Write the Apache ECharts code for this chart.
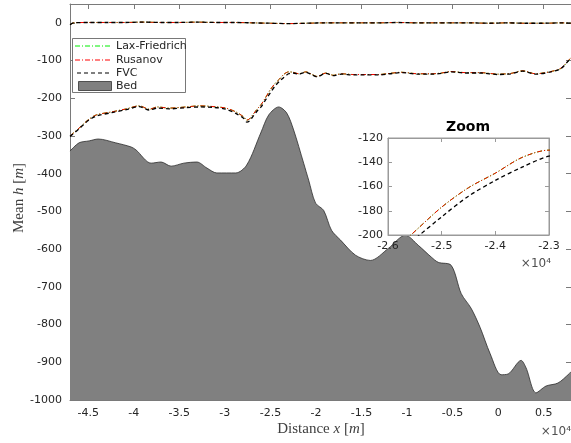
<!DOCTYPE html>
<html>
<head>
<meta charset="utf-8">
<script src="https://cdn.jsdelivr.net/npm/echarts@6/dist/echarts.min.js"></script>
<style>
  html, body { margin: 0; padding: 0; background: #fff; }
  #chart { width: 571px; height: 443px; }
</style>
</head>
<body>
<div id="chart"></div>
<script>
// Bed elevation along the profile (distance x in m, elevation in m)
const bedX = [
  -47000, -46000, -44900, -43900, -42000, -40300, -39750, -38100, -37000, -35900,
  -34500, -33070, -31970, -30880, -28800, -27600, -26060, -25180, -24090, -23210,
  -22450, -21350, -20800, -20040, -19160, -18290, -17300, -15660, -14020, -12050,
  -10180, -8760, -7340, -6570, -5150, -4050, -2960, -1970, -880, 330,
  1100, 2520, 3070, 4160, 5260, 6570, 7770, 8000
];
const bedY = [
  -340, -318, -313, -308, -318, -329, -337, -372, -369, -380,
  -372, -369, -385, -398, -398, -377, -292, -244, -223, -239,
  -284, -372, -417, -478, -497, -550, -576, -616, -630, -598,
  -563, -590, -621, -635, -643, -718, -757, -808, -877, -933,
  -931, -895, -915, -981, -963, -955, -931, -925
];

// Mean h of the lower layer for each scheme
const lowX = [
  -47000, -46000, -45000, -44100, -42400, -40800, -39400, -38300, -37400, -36100,
  -34300, -32800, -31300, -29900, -28800, -27900, -27600, -27300, -27000, -26500,
  -26000, -25600, -25000, -24500, -24000, -23500, -23000, -22500, -21900, -21100,
  -20500, -19900, -18900, -18100, -17200, -15900, -14600, -13100, -11900, -10600,
  -8800, -7300, -6200, -5200, -3600, -1900, 0, 1400, 2700, 4100,
  5800, 6900, 7700, 8000
];
const lowLaxFriedrich = [
  -300, -279, -257, -244, -236, -228, -220, -229, -223, -226,
  -223, -220, -222, -226, -236, -250, -258, -255, -246, -230,
  -216, -201, -177, -161, -149, -136, -130, -131, -135, -130,
  -136, -142, -133, -139, -135, -137, -137, -137, -134, -131,
  -135, -135, -133, -129, -132, -132, -136, -134, -127, -135,
  -129, -121, -101, -92
];
const lowRusanov = [
  -300, -279, -257, -244, -236, -228, -220, -229, -223, -226,
  -223, -220, -222, -226, -236, -250, -258, -255, -246, -230,
  -216, -201, -177, -161, -149, -136, -130, -131, -135, -130,
  -136, -142, -133, -139, -135, -137, -137, -137, -134, -131,
  -135, -135, -133, -129, -132, -132, -136, -134, -127, -135,
  -129, -120, -100, -92
];
const lowFVC = [
  -301, -281, -259, -247, -238, -230, -222, -231, -226, -228,
  -225, -223, -224, -229, -240, -254, -263, -260, -251, -235,
  -222, -207, -185, -168, -155, -144, -135, -133, -136, -131,
  -137, -143, -134, -140, -136, -138, -138, -138, -135, -132,
  -136, -136, -134, -130, -133, -133, -137, -135, -128, -136,
  -130, -121, -101, -92
];

// Mean h of the upper layer (free surface) for each scheme
const topX = [
  -47000, -46600, -45000, -43000, -41000, -39000, -37000, -35000, -33000, -31000,
  -29000, -27000, -25000, -23000, -21000, -19000, -17000, -15000, -13000, -11000,
  -9000, -7000, -5000, -3000, -1000, 1000, 3000, 5000, 7000, 8000
];
const topLaxFriedrich = [
  -5, 0, 1, 1, 1, 2, 1, 1, 2, 1,
  1, 0, -1, -2, -1, 0, 0, 0, 0, 1,
  0, 0, 0, 0, -1, 0, -1, -1, 0, -1
];
const topRusanov = [
  -5, 0, 1, 1, 1, 2, 1, 1, 2, 1,
  1, 0, -1, -2, -1, 0, 0, 0, 0, 1,
  0, 0, 0, 0, -1, 0, -1, -1, 0, -1
];
const topFVC = [
  -5, 0, 1, 1, 1, 2, 1, 1, 2, 1,
  1, 0, -1, -2, -1, 0, 0, 0, 0, 1,
  0, 0, 0, 0, -1, 0, -1, -1, 0, -1
];

// Axis ticks
const mainXTicks = [-45000, -40000, -35000, -30000, -25000, -20000, -15000, -10000, -5000, 0, 5000];

const zip = (xs, ys) => xs.map((x, i) => [x, ys[i]]);

const SANS = 'DejaVu Sans';
const SERIF = 'Liberation Serif';
const AXIS_GRAY = '#7a7a7a';
const INSET_GRAY = '#9a9a9a';
const LABEL = '#262626';
const DASHDOT = [5, 2, 1, 2];
const DASH = [4, 3];

const chart = echarts.init(document.getElementById('chart'), null, { renderer: 'canvas' });

function valueAxis(extra) {
  return Object.assign({
    type: 'value',
    splitLine: { show: false },
    axisLine: { show: true, onZero: false, lineStyle: { color: AXIS_GRAY, width: 1 } },
    axisTick: { show: true, inside: true, length: 5, lineStyle: { color: AXIS_GRAY } },
    axisLabel: { show: false }
  }, extra);
}

const xLabelFmt = v => String(+(v / 10000).toFixed(2));
const yLabelFmt = v => String(v);

function lineSeries(name, data, color, dash, width, xi, yi, z) {
  return {
    name, type: 'line', data, xAxisIndex: xi, yAxisIndex: yi,
    symbol: 'none', smooth: 0.3, clip: true, z,
    lineStyle: { color, type: dash, width },
    emphasis: { disabled: true }
  };
}

const series = [
  {
    name: 'Bed', type: 'line', data: zip(bedX, bedY), xAxisIndex: 0, yAxisIndex: 0,
    symbol: 'none', smooth: 0.3, z: 2,
    lineStyle: { color: '#2b2b2b', width: 0.8 },
    areaStyle: { color: '#808080', opacity: 1, origin: 'start' }
  }
];

// main view: both layers; inset: lower layer only
[
  ['Lax-Friedrich', topLaxFriedrich, lowLaxFriedrich, '#00ee00', DASHDOT, 1],
  ['Rusanov', topRusanov, lowRusanov, '#ff0000', DASHDOT, 1],
  ['FVC', topFVC, lowFVC, '#000000', DASH, 1.3]
].forEach(([name, top, low, color, dash, w], k) => {
  series.push(lineSeries(name, zip(topX, top), color, dash, w, 0, 0, 3 + k));
  series.push(lineSeries(name, zip(lowX, low), color, dash, w, 0, 0, 3 + k));
  series.push(lineSeries(name, zip(lowX, low), color, dash, w, 2, 2, 10 + k));
});

const insetAxis = extra => valueAxis(Object.assign({
  gridIndex: 1, z: 9,
  axisLine: { show: true, onZero: false, lineStyle: { color: INSET_GRAY, width: 1 } },
  axisTick: { show: true, inside: true, length: 4, lineStyle: { color: INSET_GRAY } }
}, extra));

const option = {
  animation: false,
  backgroundColor: '#fff',
  grid: [
    { left: 70, top: 4, right: -2, bottom: 43, show: false },
    { left: 388, top: 138, width: 161, height: 97, show: true,
      backgroundColor: '#fff', borderColor: INSET_GRAY, borderWidth: 1, z: 8 }
  ],
  xAxis: [
    valueAxis({
      gridIndex: 0, position: 'bottom', min: -47000, max: 8000,
      axisTick: { show: true, inside: true, length: 5, lineStyle: { color: AXIS_GRAY }, customValues: mainXTicks },
      axisLabel: { show: true, customValues: mainXTicks, formatter: xLabelFmt,
        fontFamily: SANS, fontSize: 11, color: LABEL, margin: 8 }
    }),
    valueAxis({
      gridIndex: 0, position: 'top', min: -47000, max: 8000,
      axisTick: { show: true, inside: true, length: 5, lineStyle: { color: AXIS_GRAY }, customValues: mainXTicks }
    }),
    insetAxis({
      position: 'bottom', min: -26000, max: -23000, interval: 1000,
      axisLabel: { show: true, formatter: xLabelFmt, fontFamily: SANS, fontSize: 11, color: LABEL, margin: 6 }
    }),
    insetAxis({ position: 'top', min: -26000, max: -23000, interval: 1000 })
  ],
  yAxis: [
    valueAxis({
      gridIndex: 0, position: 'left', min: -1000, max: 50, interval: 100,
      axisLabel: { show: true, showMaxLabel: false, formatter: yLabelFmt,
        fontFamily: SANS, fontSize: 11, color: LABEL, margin: 8 }
    }),
    valueAxis({ gridIndex: 0, position: 'right', min: -1000, max: 50, interval: 100 }),
    insetAxis({
      position: 'left', min: -200, max: -120, interval: 20,
      axisLabel: { show: true, formatter: yLabelFmt, fontFamily: SANS, fontSize: 11, color: LABEL, margin: 5 }
    }),
    insetAxis({ position: 'right', min: -200, max: -120, interval: 20 })
  ],
  series,
  graphic: [
    // axis titles
    { type: 'text', x: 321, y: 429, z: 20,
      style: {
        text: '{r|Distance }{i|x}{r| [}{i|m}{r|]}', align: 'center', verticalAlign: 'middle',
        rich: {
          r: { fontFamily: SERIF, fontSize: 15, fill: '#404040' },
          i: { fontFamily: SERIF, fontSize: 15, fontStyle: 'italic', fill: '#404040' }
        }
      } },
    { type: 'text', x: 19, y: 198, rotation: Math.PI / 2, z: 20,
      style: {
        text: '{r|Mean }{i|h}{r| [}{i|m}{r|]}', align: 'center', verticalAlign: 'middle',
        rich: {
          r: { fontFamily: SERIF, fontSize: 15, fill: '#404040' },
          i: { fontFamily: SERIF, fontSize: 15, fontStyle: 'italic', fill: '#404040' }
        }
      } },
    // exponent notes
    { type: 'text', x: 571, y: 432, z: 20,
      style: { text: '×10⁴', align: 'right', verticalAlign: 'middle', fontFamily: SANS, fontSize: 12, fill: '#505050' } },
    { type: 'text', x: 551, y: 264, z: 20,
      style: { text: '×10⁴', align: 'right', verticalAlign: 'middle', fontFamily: SANS, fontSize: 12, fill: '#505050' } },
    // inset title
    { type: 'text', x: 468, y: 127, z: 20,
      style: { text: 'Zoom', align: 'center', verticalAlign: 'middle', fontFamily: SANS, fontSize: 14, fontWeight: 'bold', fill: '#000' } },
    // legend
    { type: 'rect', z: 20, shape: { x: 72.5, y: 38.5, width: 113, height: 54 },
      style: { fill: '#fff', stroke: '#555', lineWidth: 0.8 } },
    { type: 'line', z: 21, shape: { x1: 75, y1: 46, x2: 111, y2: 46 },
      style: { stroke: '#00ee00', lineWidth: 1, lineDash: DASHDOT } },
    { type: 'text', z: 21, x: 116, y: 46,
      style: { text: 'Lax-Friedrich', verticalAlign: 'middle', fontFamily: SANS, fontSize: 11, fill: LABEL } },
    { type: 'line', z: 21, shape: { x1: 75, y1: 60, x2: 111, y2: 60 },
      style: { stroke: '#ff0000', lineWidth: 1, lineDash: DASHDOT } },
    { type: 'text', z: 21, x: 116, y: 60,
      style: { text: 'Rusanov', verticalAlign: 'middle', fontFamily: SANS, fontSize: 11, fill: LABEL } },
    { type: 'line', z: 21, shape: { x1: 77, y1: 73, x2: 111, y2: 73 },
      style: { stroke: '#000', lineWidth: 1.2, lineDash: DASH } },
    { type: 'text', z: 21, x: 116, y: 73,
      style: { text: 'FVC', verticalAlign: 'middle', fontFamily: SANS, fontSize: 11, fill: LABEL } },
    { type: 'rect', z: 21, shape: { x: 78.5, y: 81.5, width: 33, height: 9 },
      style: { fill: '#808080', stroke: '#333', lineWidth: 0.8 } },
    { type: 'text', z: 21, x: 116, y: 86,
      style: { text: 'Bed', verticalAlign: 'middle', fontFamily: SANS, fontSize: 11, fill: LABEL } }
  ]
};

chart.setOption(option);
</script>
</body>
</html>
